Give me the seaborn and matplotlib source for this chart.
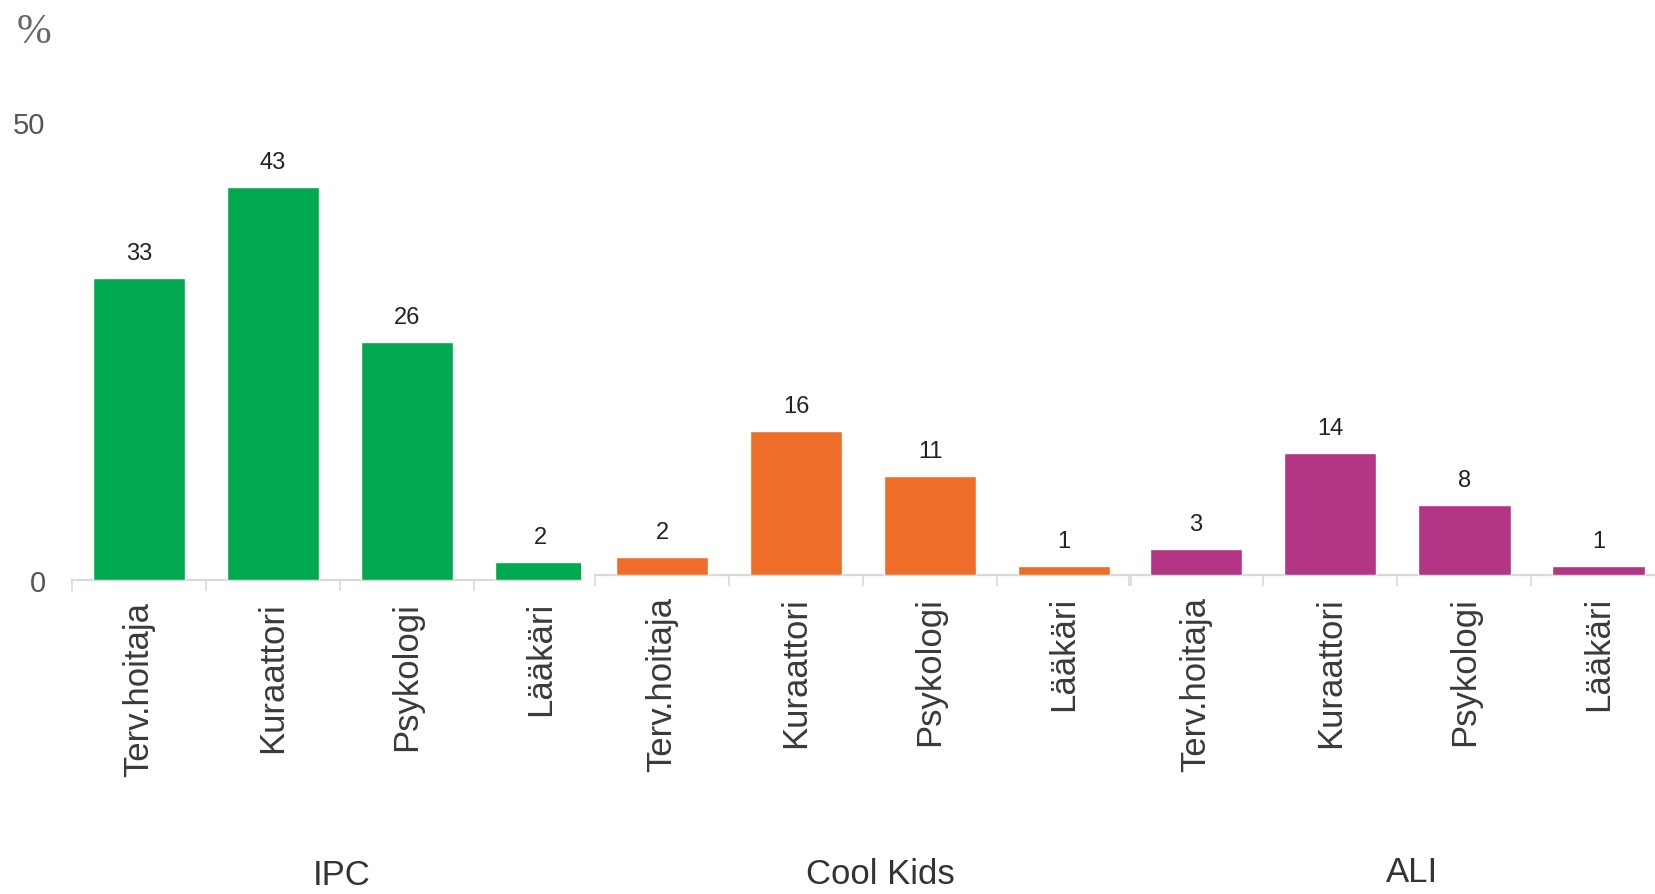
import matplotlib
matplotlib.use('Agg')
import matplotlib.pyplot as plt
import seaborn as sns
import pandas as pd

# ---- data ----
categories = ['Terv.hoitaja', 'Kuraattori', 'Psykologi', 'Lääkäri']
groups = ['IPC', 'Cool Kids', 'ALI']
ipc_values = [33, 43, 26, 2]
coolkids_values = [2, 16, 11, 1]
ali_values = [3, 14, 8, 1]
y_ticks = [0, 50]
y_unit = '%'

colors = ['#00A94F', '#EE6D28', '#B33585']
series = [ipc_values, coolkids_values, ali_values]

sns.set_theme(style='white')
plt.rcParams['font.family'] = ['Liberation Sans', 'DejaVu Sans']

W, H = 1656, 895
DPI = 100
fig = plt.figure(figsize=(W / DPI, H / DPI), dpi=DPI)

PT = DPI / 72.0  # px per point
TOP = 60
# layout per panel (pixels): left edge, width, baseline y, px per unit, x upper limit,
# group-label x shift and drop below baseline
panels = [
    dict(left=72, width=509, base=581, ppu=9.15, xmax=3.30, shift=2, drop=295),
    dict(left=595, width=536, base=576, ppu=9.0, xmax=3.5, shift=17, drop=299),
    dict(left=1129, width=527, base=576, ppu=8.75, xmax=3.43, shift=15, drop=296),
]
axis_gray = '#D9D9D9'

for i, (grp, vals, col, p) in enumerate(zip(groups, series, colors, panels)):
    ax = fig.add_axes([p['left'] / W, (H - p['base']) / H,
                       p['width'] / W, (p['base'] - TOP) / H])
    df = pd.DataFrame({'cat': categories, 'val': vals})
    sns.barplot(data=df, x='cat', y='val', color=col, saturation=1,
                width=0.69, ax=ax, order=categories)
    ax.set_xlabel('')
    ax.set_ylabel('')
    for s in ['top', 'right', 'left']:
        ax.spines[s].set_visible(False)
    ax.spines['bottom'].set_color(axis_gray)
    ax.spines['bottom'].set_linewidth(1.6)
    ax.spines['bottom'].set_zorder(0)
    ax.set_xticks(range(len(categories)))
    ax.set_xticklabels(categories, rotation=90, fontsize=25, color='#3A3A3A',
                       va='top', ha='center')
    ax.set_xticks([k - 0.5 for k in range(len(categories) + 1)], minor=True)
    ax.tick_params(axis='x', which='major', length=0, pad=15)
    ax.tick_params(axis='x', which='minor', length=8, width=1.2,
                   color=axis_gray, direction='out', bottom=True)
    if i == 0:
        ax.set_yticks(y_ticks)
        ax.set_yticklabels([str(t) for t in y_ticks], fontsize=21, color='#555555')
        ax.tick_params(axis='y', length=0, pad=19)
    else:
        ax.set_yticks([])
    ax.set_xlim(-0.5, p['xmax'])
    ax.set_ylim(0, (p['base'] - TOP) / p['ppu'])
    for c in ax.containers:
        ax.bar_label(c, labels=[str(v) for v in vals], padding=10,
                     fontsize=17, color='#222222')
    ax.annotate(grp, xy=((len(categories) - 1) / 2, 0), xycoords='data',
                xytext=(p['shift'] / PT, -p['drop'] / PT), textcoords='offset points',
                ha='center', va='center', fontsize=25, color='#333333',
                annotation_clip=False)
    ax.patch.set_alpha(0)

fig.text(34 / W, 1 - 33 / H, y_unit, family=['Liberation Serif', 'DejaVu Serif'],
         fontsize=30, color='#666666', ha='center', va='center')

fig.savefig('out.png', dpi=DPI)
